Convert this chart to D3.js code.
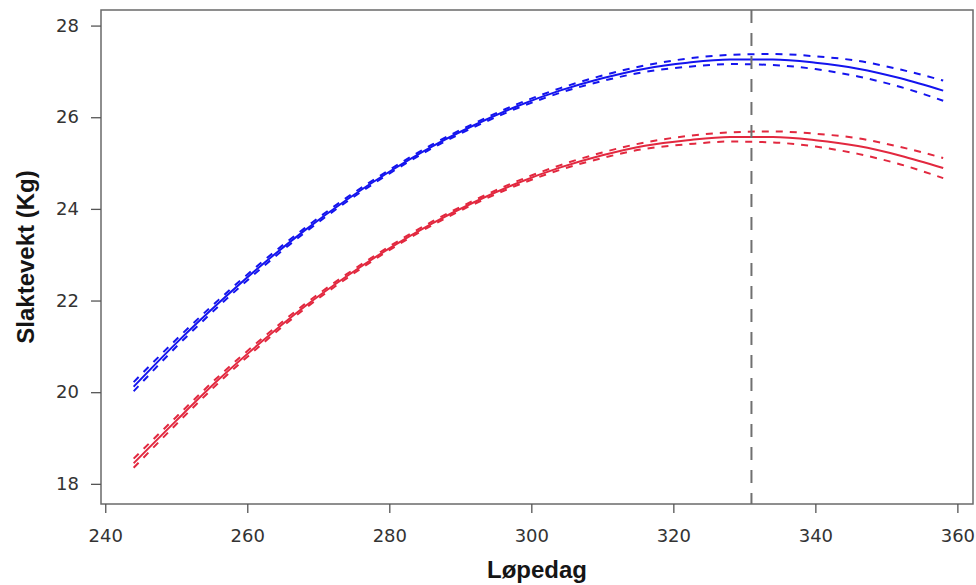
<!DOCTYPE html>
<html>
<head>
<meta charset="utf-8">
<script src="https://cdn.jsdelivr.net/npm/d3@7"></script>
<style>
  html, body { margin: 0; padding: 0; background: #ffffff; }
  svg { display: block; }
</style>
</head>
<body>
<svg id="chart" width="976" height="585"></svg>
<script>
// ---- data ----
const days = [244, 250, 256, 262, 268, 274, 280, 286, 292, 298, 304, 310, 316, 322, 328, 334, 340, 346, 352, 358];
const blueFit = [20.12, 21.07, 21.95, 22.77, 23.52, 24.20, 24.81, 25.36, 25.83, 26.24, 26.58, 26.85, 27.06, 27.19, 27.26, 27.26, 27.19, 27.06, 26.85, 26.58];
const redFit  = [18.45, 19.38, 20.28, 21.10, 21.86, 22.53, 23.14, 23.68, 24.15, 24.56, 24.90, 25.17, 25.38, 25.50, 25.57, 25.57, 25.50, 25.37, 25.16, 24.89];
const ciHalf  = [0.10, 0.08, 0.07, 0.06, 0.05, 0.045, 0.04, 0.04, 0.04, 0.045, 0.05, 0.06, 0.07, 0.09, 0.10, 0.12, 0.14, 0.17, 0.19, 0.22];
const xTicks = [240, 260, 280, 300, 320, 340, 360];
const yTicks = [18, 20, 22, 24, 26, 28];
const peakDay = 331;
const xTitle = "Løpedag";
const yTitle = "Slaktevekt (Kg)";

// ---- layout ----
const svg = d3.select("#chart");
const mLeft = 101, mRight = 973, mTop = 10, mBottom = 504;
const x = d3.scaleLinear().domain([239.4, 362.2]).range([mLeft, mRight]);
const y = d3.scaleLinear().domain([17.56, 28.34]).range([mBottom, mTop]);
const tickFont = "'DejaVu Sans', Verdana, sans-serif";
const titleFont = "'Liberation Sans', Arial, sans-serif";

// series
const series = [
  { values: blueFit, color: "#1414ee" },
  { values: redFit,  color: "#e2283f" }
];

const line = d3.line().curve(d3.curveMonotoneX);

series.forEach(s => {
  const fit = days.map((d, i) => [x(d), y(s.values[i])]);
  const up  = days.map((d, i) => [x(d), y(s.values[i] + ciHalf[i])]);
  const lo  = days.map((d, i) => [x(d), y(s.values[i] - ciHalf[i])]);
  [up, lo].forEach(pts => {
    svg.append("path")
      .attr("d", line(pts))
      .attr("fill", "none")
      .attr("stroke", s.color)
      .attr("stroke-width", 2)
      .attr("stroke-dasharray", "7,7");
  });
  svg.append("path")
    .attr("d", line(fit))
    .attr("fill", "none")
    .attr("stroke", s.color)
    .attr("stroke-width", 2);
});

// vertical reference line
svg.append("line")
  .attr("x1", x(peakDay)).attr("x2", x(peakDay))
  .attr("y1", mTop).attr("y2", mBottom)
  .attr("stroke", "#707070")
  .attr("stroke-width", 2)
  .attr("stroke-dasharray", "13,10");

// box
svg.append("rect")
  .attr("x", mLeft).attr("y", mTop)
  .attr("width", mRight - mLeft).attr("height", mBottom - mTop)
  .attr("fill", "none")
  .attr("stroke", "#6a6a6a")
  .attr("stroke-width", 1.5);

// axes
const xAxis = svg.append("g")
  .attr("transform", `translate(0,${mBottom})`)
  .call(d3.axisBottom(x).tickValues(xTicks).tickSize(9).tickPadding(16).tickFormat(d3.format("d")));
const yAxis = svg.append("g")
  .attr("transform", `translate(${mLeft},0)`)
  .call(d3.axisLeft(y).tickValues(yTicks).tickSize(10).tickPadding(12).tickFormat(d3.format("d")));

[xAxis, yAxis].forEach(g => {
  g.select(".domain").remove();
  g.selectAll(".tick line").attr("stroke", "#555").attr("stroke-width", 1.3);
  g.selectAll(".tick text").attr("fill", "#333").style("font-family", tickFont).style("font-size", "18px");
});

// titles
svg.append("text")
  .attr("x", (mLeft + mRight) / 2).attr("y", 578)
  .attr("text-anchor", "middle")
  .style("font-family", titleFont).style("font-size", "24px").style("font-weight", "bold")
  .attr("fill", "#151515")
  .text(xTitle);

svg.append("text")
  .attr("transform", `translate(34,${(mTop + mBottom) / 2}) rotate(-90)`)
  .attr("text-anchor", "middle")
  .style("font-family", titleFont).style("font-size", "24px").style("font-weight", "bold")
  .attr("fill", "#151515")
  .text(yTitle);
</script>
</body>
</html>
